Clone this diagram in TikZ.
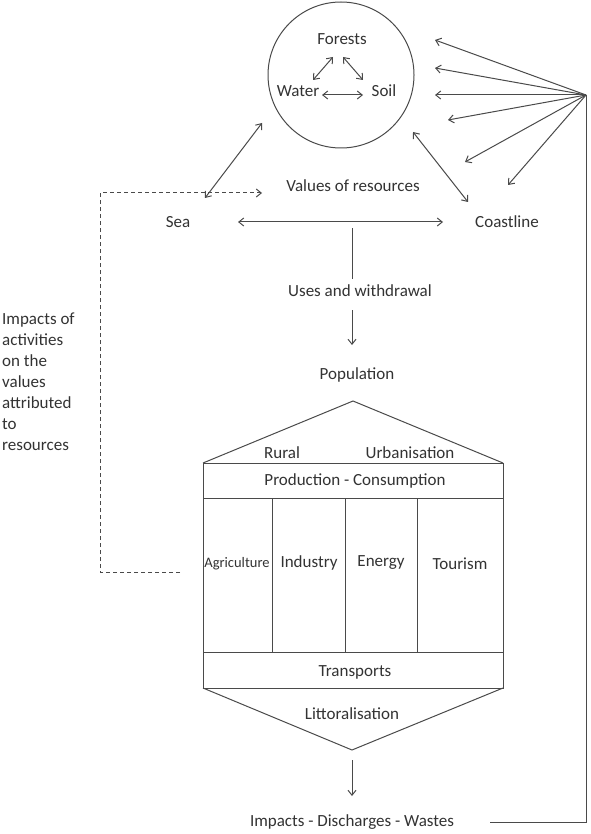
\documentclass[tikz,border=0pt]{standalone}
\usepackage{fontspec}
\setmainfont{Carlito}
\usetikzlibrary{arrows.meta}
\definecolor{linec}{HTML}{4A4A4A}
\definecolor{txtc}{HTML}{333333}
\tikzset{
  ln/.style={draw=linec, line width=1pt},
  arr/.style={ln, -{Straight Barb[length=5pt,width=8pt]}},
  darr/.style={ln, {Straight Barb[length=5pt,width=8pt]}-{Straight Barb[length=5pt,width=8pt]}},
  dsh/.style={draw=linec, line width=1pt, dash pattern=on 4pt off 3pt},
  lbl/.style={text=txtc, font=\fontsize{17}{21}\selectfont, inner sep=1pt},
  slbl/.style={text=txtc, font=\fontsize{14.5}{18}\selectfont, inner sep=0pt},
}
\begin{document}
\begin{tikzpicture}[x=1pt,y=-1pt]
\useasboundingbox[fill=white] (0,0) rectangle (590,834);

% resources circle
\node[circle, ln, minimum size=146pt, inner sep=0pt] (res) at (341,75) {};
\node[lbl] (forests) at (342,39) {Forests};
\node[lbl] (water) at (298,91) {Water};
\node[lbl] (soil) at (384,91) {Soil};
\coordinate (fw1) at (333,57); \coordinate (fw2) at (313,80);
\coordinate (fs1) at (343,57); \coordinate (fs2) at (363,80);
\coordinate (ws1) at (322,95); \coordinate (ws2) at (363,95);
\draw[darr] (fw1) -- (fw2);
\draw[darr] (fs1) -- (fs2);
\draw[darr] (ws1) -- (ws2);

% fan
\coordinate (fan) at (586,95);
\coordinate (f1) at (435,40);
\coordinate (f2) at (435,68);
\coordinate (f3) at (435,95);
\coordinate (f4) at (448,120);
\coordinate (f5) at (465,162);
\coordinate (f6) at (508,185);
\foreach \t in {f1,f2,f3,f4,f5,f6} \draw[arr] (fan) -- (\t);

% sea / coastline
\node[lbl] (values) at (353,186) {Values of resources};
\node[lbl] (sea) at (178,222) {Sea};
\node[lbl] (coast) at (507,222) {Coastline};
\coordinate (sc1) at (205,198); \coordinate (sc2) at (262,123);
\coordinate (cc1) at (413,132); \coordinate (cc2) at (468,202);
\draw[darr] (sc1) -- (sc2);
\draw[darr] (cc1) -- (cc2);
\coordinate (h1) at (238,222); \coordinate (h2) at (443,222);
\draw[darr] (h1) -- (h2);

% uses
\coordinate (v1) at (352,228); \coordinate (v2) at (352,279);
\draw[ln] (v1) -- (v2);
\node[lbl] (uses) at (360,291) {Uses and withdrawal};
\coordinate (u1) at (352,310); \coordinate (u2) at (352,345);
\draw[arr] (u1) -- (u2);
\node[lbl] (pop) at (357,375) {Population};

% house
\coordinate (apex) at (353,401);
\coordinate (rl) at (203,463); \coordinate (rr) at (503,463);
\coordinate (pl) at (203,498); \coordinate (pr) at (503,498);
\coordinate (tl) at (203,652); \coordinate (tr) at (503,652);
\coordinate (bl) at (203,688); \coordinate (br) at (503,688);
\coordinate (lap) at (352,750);
\draw[ln] (rl) -- (apex) -- (rr);
\draw[ln] (rl) rectangle (br);
\draw[ln] (pl) -- (pr);
\draw[ln] (tl) -- (tr);
\draw[ln] (bl) -- (lap) -- (br);
\foreach \x in {272,345,417} \draw[ln] (\x,498) -- (\x,652);
\node[lbl] (rural) at (282,453) {Rural};
\node[lbl] (urban) at (410,453) {Urbanisation};
\node[lbl] (prod) at (355,481) {Production - Consumption};
\node[slbl] (agri) at (237,564) {Agriculture};
\node[lbl] (ind) at (309,563) {Industry};
\node[lbl] (ener) at (381,563) {Energy};
\node[lbl] (tour) at (460,564) {Tourism};
\node[lbl] (trans) at (355,672) {Transports};
\node[lbl] (litt) at (352,714) {Littoralisation};

% impacts
\coordinate (i1) at (352,760); \coordinate (i2) at (352,796);
\draw[arr] (i1) -- (i2);
\node[lbl] (imp) at (352,822) {Impacts - Discharges - Wastes};
\coordinate (ret1) at (490,822); \coordinate (ret2) at (586,822);
\draw[ln] (ret1) -- (ret2) -- (fan);

% dashed feedback
\coordinate (d0) at (180,572); \coordinate (d1) at (100,572);
\coordinate (d2) at (100,193); \coordinate (d3) at (262,193);
\draw[dsh, -{Straight Barb[length=5pt,width=8pt]}] (d0) -- (d1) -- (d2) -- (d3);
\node[lbl, align=left, anchor=north west, inner sep=0pt] (impl) at (2,313)
  {Impacts of\\activities\\on the\\values\\attributed\\to\\resources};
\end{tikzpicture}
\end{document}
